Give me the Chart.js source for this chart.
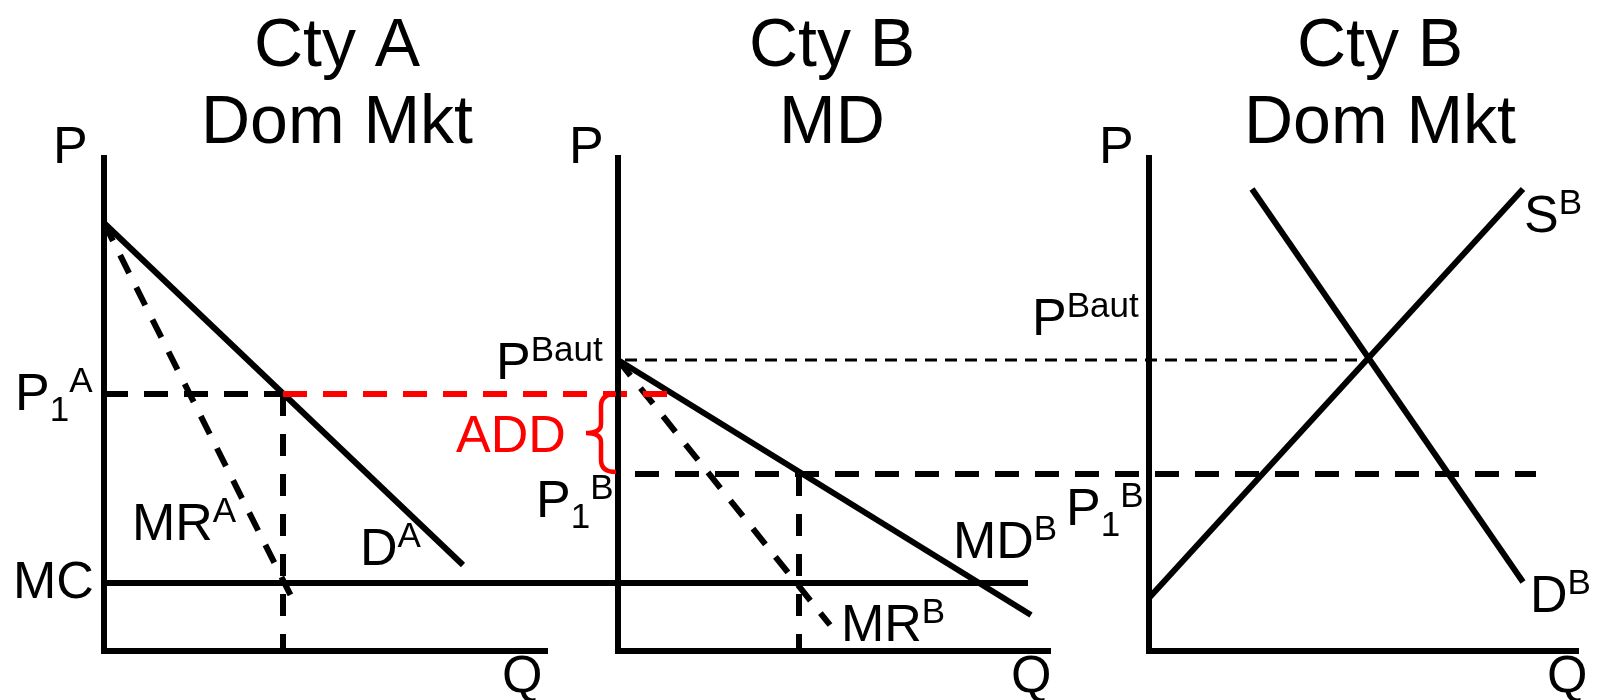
<!DOCTYPE html>
<html>
<head>
<meta charset="utf-8">
<script src="https://cdn.jsdelivr.net/npm/chart.js@4.4.0/dist/chart.umd.min.js"></script>
<style>
  html, body { margin: 0; padding: 0; background: #fff; }
  #wrap { width: 1598px; height: 700px; }
</style>
</head>
<body>
<div id="wrap"><canvas id="grafico" width="1598" height="700"></canvas></div>
<script>
// panels: Cty A home market, Cty B import demand (MD), Cty B home market
const panelTitles = [['Cty A', 'Dom Mkt'], ['Cty B', 'MD'], ['Cty B', 'Dom Mkt']];

// price levels on the shared P axis (height above the Q axis)
const levelNames = ['P1A', 'PBaut', 'P1B', 'MC'];
const levelValues = [257, 291, 177, 68];
const lvl = name => levelValues[levelNames.indexOf(name)];

// curves, [Q, P] pairs in each panel's own Q units
const demandA_Q = [0, 359];   const demandA_P = [428, 86];
const mrA_Q     = [0, 189];   const mrA_P     = [428, 51];
const mdB_Q     = [0, 413];   const mdB_P     = [291, 36];
const mrB_Q     = [0, 212];   const mrB_P     = [291, 26];
const supplyB_Q = [0, 374];   const supplyB_P = [53, 462];
const demandB_Q = [103, 374]; const demandB_P = [462, 69];

// quantities where MR = MC
const qA1 = 179;
const qB1 = 181;

// horizontal guides: [panel, Q] start and end
const mcFrom = [0, 0],     mcTo = [1, 410];
const p1aFrom = [0, 0],    p1aTo = [0, qA1];
const addFrom = [0, qA1],  addTo = [1, 55];
const bautFrom = [1, 7],   bautTo = [2, 219];
const p1bFrom = [1, 17],   p1bTo = [2, 387];

// axis ranges
const axisTopP = 496;
const axisMaxQ = [444, 433, 430];

// layout: where each panel's Q = 0 sits on the page
const origin = [104, 618, 1149];

const X = (panel, q) => origin[panel] + q;
const curve = (panel, qs, ps) => qs.map((q, i) => ({ x: X(panel, q), y: ps[i] }));
const hline = (from, to, p) => [{ x: X(from[0], from[1]), y: p }, { x: X(to[0], to[1]), y: p }];

function linha(data, cor, largura, traco) {
  return {
    data: data,
    showLine: true,
    pointRadius: 0,
    borderColor: cor,
    borderWidth: largura,
    borderDash: traco || [],
    borderCapStyle: 'butt',
    borderJoinStyle: 'miter',
    fill: false
  };
}

const datasets = [];
// axes
for (let i = 0; i < 3; i++) {
  datasets.push(linha([{ x: X(i, 0), y: axisTopP }, { x: X(i, 0), y: 0 }, { x: X(i, axisMaxQ[i]), y: 0 }], '#000', 6));
}
// guides
datasets.push(linha(hline(mcFrom, mcTo, lvl('MC')), '#000', 6));
datasets.push(linha(hline(p1aFrom, p1aTo, lvl('P1A')), '#000', 6, [24, 16]));
datasets.push(linha(hline(addFrom, addTo, lvl('P1A')), '#ff0000', 6, [24, 16]));
datasets.push(linha(hline(bautFrom, bautTo, lvl('PBaut')), '#000', 3, [12, 8]));
datasets.push(linha(hline(p1bFrom, p1bTo, lvl('P1B')), '#000', 6, [24, 16]));
datasets.push(linha([{ x: X(0, qA1), y: lvl('P1A') }, { x: X(0, qA1), y: 0 }], '#000', 6, [22, 18]));
datasets.push(linha([{ x: X(1, qB1), y: lvl('P1B') }, { x: X(1, qB1), y: 0 }], '#000', 6, [22, 18]));
// curves
datasets.push(linha(curve(0, demandA_Q, demandA_P), '#000', 6));
datasets.push(linha(curve(0, mrA_Q, mrA_P), '#000', 6, [20, 16]));
datasets.push(linha(curve(1, mdB_Q, mdB_P), '#000', 6));
datasets.push(linha(curve(1, mrB_Q, mrB_P), '#000', 6, [20, 16]));
datasets.push(linha(curve(2, supplyB_Q, supplyB_P), '#000', 6));
datasets.push(linha(curve(2, demandB_Q, demandB_P), '#000', 6));

// labels: panel, Q, P of baseline start
const rotulos = [
  { panel: 0, q: -51, p: 488, main: 'P' },
  { panel: 0, q: -89, p: 241, main: 'P', sub: '1', sup: 'A' },
  { panel: 0, q: -91, p: 53, main: 'MC' },
  { panel: 0, q: 28, p: 111, main: 'MR', sup: 'A' },
  { panel: 0, q: 256, p: 86, main: 'D', sup: 'A' },
  { panel: 0, q: 398, p: -41, main: 'Q' },
  { panel: 1, q: -49, p: 488, main: 'P' },
  { panel: 1, q: -122, p: 272, main: 'P', sup: 'Baut' },
  { panel: 1, q: -162, p: 199, main: 'ADD', color: '#ff0000' },
  { panel: 1, q: -82, p: 134, main: 'P', sub: '1', sup: 'B' },
  { panel: 1, q: 223, p: 10, main: 'MR', sup: 'B' },
  { panel: 1, q: 335, p: 93, main: 'MD', sup: 'B' },
  { panel: 1, q: 393, p: -41, main: 'Q' },
  { panel: 2, q: -50, p: 488, main: 'P' },
  { panel: 2, q: -117, p: 316, main: 'P', sup: 'Baut' },
  { panel: 2, q: -83, p: 126, main: 'P', sub: '1', sup: 'B' },
  { panel: 2, q: 375, p: 419, main: 'S', sup: 'B' },
  { panel: 2, q: 381, p: 39, main: 'D', sup: 'B' },
  { panel: 2, q: 398, p: -41, main: 'Q' }
];
const titleQ = [233, 214, 231];
const titleP = [585, 508];

const FONTE = '"Liberation Sans", Arial, sans-serif';

const textos = {
  id: 'textos',
  afterDatasetsDraw(chart) {
    const ctx = chart.ctx;
    const sx = chart.scales.x, sy = chart.scales.y;
    ctx.save();
    ctx.textBaseline = 'alphabetic';

    // titles
    ctx.fillStyle = '#000';
    ctx.textAlign = 'center';
    ctx.font = '68px ' + FONTE;
    panelTitles.forEach((linhas, i) => {
      linhas.forEach((t, j) => {
        ctx.fillText(t, sx.getPixelForValue(X(i, titleQ[i])), sy.getPixelForValue(titleP[j]));
      });
    });

    // axis / curve labels
    ctx.textAlign = 'left';
    rotulos.forEach(r => {
      let x = sx.getPixelForValue(X(r.panel, r.q));
      const y = sy.getPixelForValue(r.p);
      ctx.fillStyle = r.color || '#000';
      ctx.font = '52px ' + FONTE;
      ctx.fillText(r.main, x, y);
      x += ctx.measureText(r.main).width;
      ctx.font = '35px ' + FONTE;
      if (r.sub) {
        ctx.fillText(r.sub, x, y + 11);
        x += ctx.measureText(r.sub).width;
      }
      if (r.sup) ctx.fillText(r.sup, x, y - 18);
    });

    // red brace between P1A and P1B on the MD axis
    const x0 = sx.getPixelForValue(X(1, 0)) - 2;
    const yT = sy.getPixelForValue(lvl('P1A'));
    const yB = sy.getPixelForValue(lvl('P1B')) - 2;
    const ym = (yT + yB) / 2;
    const xv = x0 - 15, xt = x0 - 30;
    ctx.strokeStyle = '#ff0000';
    ctx.lineWidth = 4.5;
    ctx.beginPath();
    ctx.moveTo(x0, yT);
    ctx.quadraticCurveTo(xv, yT, xv, yT + 12);
    ctx.lineTo(xv, ym - 9);
    ctx.quadraticCurveTo(xv, ym, xt, ym);
    ctx.quadraticCurveTo(xv, ym, xv, ym + 9);
    ctx.lineTo(xv, yB - 12);
    ctx.quadraticCurveTo(xv, yB, x0, yB);
    ctx.stroke();
    ctx.restore();
  }
};

new Chart(document.getElementById('grafico'), {
  type: 'scatter',
  data: { datasets: datasets },
  options: {
    responsive: false,
    animation: false,
    events: [],
    layout: { padding: 0 },
    scales: {
      x: { type: 'linear', min: 0, max: 1598, display: false },
      y: { type: 'linear', min: -49, max: 651, display: false }
    },
    plugins: {
      legend: { display: false },
      tooltip: { enabled: false }
    }
  },
  plugins: [textos]
});
</script>
</body>
</html>
